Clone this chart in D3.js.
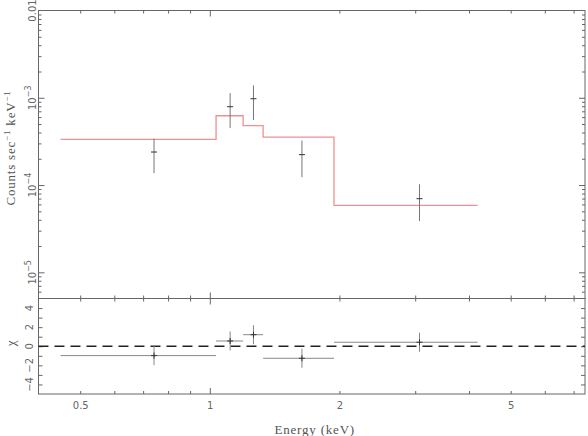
<!DOCTYPE html>
<html>
<head>
<meta charset="utf-8">
<script src="https://cdn.jsdelivr.net/npm/d3@7"></script>
<style>
  body { margin: 0; background: #fff; }
  svg { display: block; }
  .lbl { font-family: "DejaVu Sans", sans-serif; font-size: 10px; fill: #666; }
  .title { font-family: "Liberation Serif", serif; font-size: 13px; fill: #555; letter-spacing: 0.8px; }
</style>
</head>
<body>
<div id="chart"></div>
<script>
// spectral bins (keV)
var binLo  = [0.45, 1.034, 1.195, 1.33, 1.943];
var binHi  = [1.034, 1.195, 1.33, 1.943, 4.19];
var energy = [0.742, 1.115, 1.263, 1.637, 3.07];
// counts sec^-1 keV^-1
var rate   = [2.39e-4, 7.9e-4, 9.75e-4, 2.23e-4, 6.98e-5];
var rateLo = [1.37e-4, 4.49e-4, 5.55e-4, 1.23e-4, 3.87e-5];
var rateHi = [3.40e-4, 1.13e-3, 1.384e-3, 3.24e-4, 1.02e-4];
var model  = [3.33e-4, 6.22e-4, 4.79e-4, 3.54e-4, 5.85e-5];
// residuals (delchi)
var chi    = [-0.98, 0.55, 1.21, -1.26, 0.42];

var xTickLabels = [0.5, 1, 2, 5];
var yTickLabels = [1e-2, 1e-3, 1e-4, 1e-5];
var chiTicks = [-4, -3, -2, -1, 0, 1, 2, 3, 4];
var chiTickLabels = [4, 2, 0, -2, -4];

var W = 588, H = 436;
var L = 38.5, R = 585, T1 = 10.5, B1 = 298.5, B2 = 394;

var svg = d3.select("#chart").append("svg")
	.attr("width", W).attr("height", H);

var x = d3.scaleLog().domain([0.4, 7.44]).range([L, R]);
var y = d3.scaleLog().domain([Math.pow(10, -5.3), 1e-2]).range([B1, T1]);
var yc = d3.scaleLinear().domain([-5, 5]).range([B2, B1]);

var axisColor = "#666";

function isDecade(v) {
	var l = Math.log10(v);
	return Math.abs(l - Math.round(l)) < 1e-6;
}

// tick helper: draw ticks with an axis, then set lengths by value
function tickAxis(gen, tr, lenFn, dir) {
	var g = svg.append("g").attr("transform", tr).call(gen);
	g.select(".domain").remove();
	g.selectAll(".tick text").remove();
	g.selectAll(".tick line")
		.attr("stroke", axisColor)
		.attr(dir, function(d) { return lenFn(d); })
		.attr(dir === "y2" ? "x2" : "y2", 0);
	return g;
}

var xTicks = x.ticks().filter(function(d) { return d > 0.4 && d < 7.44; });
var xLen = function(d) { return isDecade(d) ? 6 : 3; };
var yTicks = y.ticks().filter(function(d) { return d < 1e-2; });
var yLen = function(d) { return isDecade(d) ? 6 : 3; };

// upper panel ticks
tickAxis(d3.axisBottom(x).tickValues(xTicks), "translate(0," + T1 + ")", function(d) { return xLen(d); }, "y2");
tickAxis(d3.axisTop(x).tickValues(xTicks), "translate(0," + B1 + ")", function(d) { return -xLen(d); }, "y2");
tickAxis(d3.axisRight(y).tickValues(yTicks), "translate(" + L + ",0)", function(d) { return yLen(d); }, "x2");
tickAxis(d3.axisLeft(y).tickValues(yTicks), "translate(" + R + ",0)", function(d) { return -yLen(d); }, "x2");

// lower panel ticks
tickAxis(d3.axisBottom(x).tickValues(xTicks), "translate(0," + B1 + ")", function(d) { return xLen(d); }, "y2");
tickAxis(d3.axisTop(x).tickValues(xTicks), "translate(0," + B2 + ")", function(d) { return -xLen(d); }, "y2");
tickAxis(d3.axisRight(yc).tickValues(chiTicks), "translate(" + L + ",0)", function() { return 4; }, "x2");
tickAxis(d3.axisLeft(yc).tickValues(chiTicks), "translate(" + R + ",0)", function() { return -4; }, "x2");

// frames
svg.append("rect").attr("x", L).attr("y", T1).attr("width", R - L).attr("height", B1 - T1)
	.attr("fill", "none").attr("stroke", axisColor);
svg.append("rect").attr("x", L).attr("y", B1).attr("width", R - L).attr("height", B2 - B1)
	.attr("fill", "none").attr("stroke", axisColor);

// x tick labels
var xl = svg.append("g").attr("class", "lbl")
	.attr("transform", "translate(0," + B2 + ")")
	.call(d3.axisBottom(x).tickValues(xTickLabels).tickSize(0).tickPadding(8)
		.tickFormat(function(d) { return String(d); }));
xl.select(".domain").remove();
xl.selectAll("text").attr("class", "lbl").attr("font-size", null).attr("font-family", null).attr("fill", null);

// y tick labels (rotated)
var ylab = svg.append("g");
yTickLabels.forEach(function(v) {
	var t = ylab.append("text").attr("class", "lbl")
		.attr("text-anchor", "middle")
		.attr("transform", "translate(" + (L - 3) + "," + y(v) + ") rotate(-90)");
	if (v === 1e-2) {
		t.text("0.01");
	} else {
		t.append("tspan").text("10");
		t.append("tspan").attr("dy", -5).attr("font-size", 8).text("\u2212" + (-Math.round(Math.log10(v))));
	}
});

chiTickLabels.forEach(function(v) {
	ylab.append("text").attr("class", "lbl")
		.attr("text-anchor", "middle")
		.attr("transform", "translate(" + (L - 6) + "," + yc(v) + ") rotate(-90)")
		.text(v < 0 ? "\u2212" + (-v) : String(v));
});

// axis titles
svg.append("text").attr("class", "title").attr("text-anchor", "middle")
	.attr("x", (x(0.4) + x(7.44)) / 2 + 3).attr("y", 434)
	.text("Energy (keV)");

var yt = svg.append("text").attr("class", "title").attr("text-anchor", "middle")
	.attr("transform", "translate(15," + 148 + ") rotate(-90)");
yt.append("tspan").text("Counts sec");
yt.append("tspan").attr("dy", -5).attr("font-size", 9).text("\u22121");
yt.append("tspan").attr("dy", 5).text(" keV");
yt.append("tspan").attr("dy", -5).attr("font-size", 9).text("\u22121");

svg.append("text").attr("class", "title").attr("text-anchor", "middle")
	.attr("transform", "translate(15," + 343 + ") rotate(-90)")
	.text("\u03c7");

// model step line
var modelPts = binLo.map(function(e, i) { return [e, model[i]]; });
modelPts.push([binHi[binHi.length - 1], model[model.length - 1]]);
svg.append("path")
	.datum(modelPts)
	.attr("fill", "none")
	.attr("stroke", "#f09090")
	.attr("stroke-width", 1.3)
	.attr("d", d3.line().curve(d3.curveStepAfter)
		.x(function(d) { return x(d[0]); })
		.y(function(d) { return y(d[1]); }));

// data points, upper panel
var idx = d3.range(energy.length);
var up = svg.append("g");
up.selectAll(".err").data(idx).enter().append("line")
	.attr("x1", function(i) { return x(energy[i]); })
	.attr("x2", function(i) { return x(energy[i]); })
	.attr("y1", function(i) { return y(rateLo[i]); })
	.attr("y2", function(i) { return y(rateHi[i]); })
	.attr("stroke", "#777").attr("stroke-width", 1);
up.selectAll(".mk").data(idx).enter().append("line")
	.attr("x1", function(i) { return x(energy[i]) - 3; })
	.attr("x2", function(i) { return x(energy[i]) + 3; })
	.attr("y1", function(i) { return y(rate[i]); })
	.attr("y2", function(i) { return y(rate[i]); })
	.attr("stroke", "#333").attr("stroke-width", 1);

// zero line
svg.append("line")
	.attr("x1", L).attr("x2", R)
	.attr("y1", yc(0)).attr("y2", yc(0))
	.attr("stroke", "#222").attr("stroke-width", 1.3)
	.attr("stroke-dasharray", "10,6");

// residuals
var lo = svg.append("g");
lo.selectAll(".bin").data(idx).enter().append("line")
	.attr("x1", function(i) { return x(binLo[i]); })
	.attr("x2", function(i) { return x(binHi[i]); })
	.attr("y1", function(i) { return yc(chi[i]); })
	.attr("y2", function(i) { return yc(chi[i]); })
	.attr("stroke", "#888").attr("stroke-width", 1);
lo.selectAll(".err").data(idx).enter().append("line")
	.attr("x1", function(i) { return x(energy[i]); })
	.attr("x2", function(i) { return x(energy[i]); })
	.attr("y1", function(i) { return yc(chi[i] - 1); })
	.attr("y2", function(i) { return yc(chi[i] + 1); })
	.attr("stroke", "#888").attr("stroke-width", 1);
lo.selectAll(".mk").data(idx).enter().append("path")
	.attr("d", function(i) {
		var cx = x(energy[i]), cy = yc(chi[i]);
		return "M" + (cx - 3) + "," + cy + "H" + (cx + 3) + "M" + cx + "," + (cy - 3) + "V" + (cy + 3);
	})
	.attr("stroke", "#333").attr("stroke-width", 1);
</script>
</body>
</html>
